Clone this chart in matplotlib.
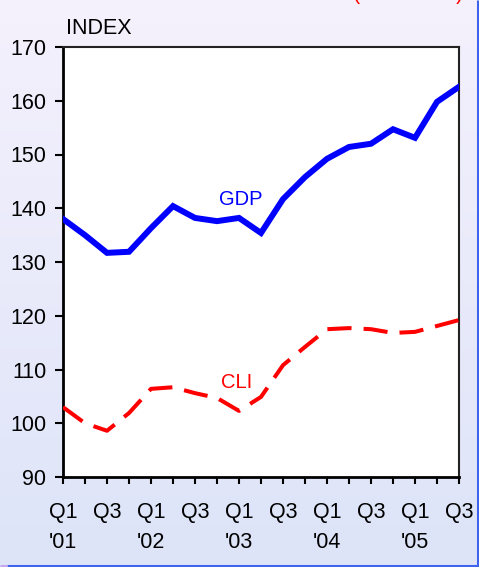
import matplotlib.pyplot as plt
import numpy as np

plt.rcParams['font.family'] = ['Liberation Sans', 'DejaVu Sans']

quarters = ["Q1\n'01", "Q2", "Q3", "Q4", "Q1\n'02", "Q2", "Q3", "Q4",
            "Q1\n'03", "Q2", "Q3", "Q4", "Q1\n'04", "Q2", "Q3", "Q4",
            "Q1\n'05", "Q2", "Q3"]
gdp = [138.0, 135.0, 131.7, 131.9, 136.3, 140.4, 138.2, 137.6, 138.2, 135.4,
       141.7, 145.8, 149.2, 151.4, 152.0, 154.7, 153.1, 159.8, 162.6]
cli = [103.0, 100.0, 98.6, 101.9, 106.4, 106.7, 105.6, 104.7, 102.3, 104.9,
       110.8, 114.2, 117.5, 117.7, 117.5, 116.8, 117.0, 118.1, 119.2]
yticks = [90, 100, 110, 120, 130, 140, 150, 160, 170]

W, H = 479, 567
fig = plt.figure(figsize=(W / 100, H / 100), dpi=100)

# gradient background
bg = fig.add_axes([0, 0, 1, 1], zorder=0)
top = np.array([0xF5, 0xF1, 0xFD]) / 255
bot = np.array([0xDD, 0xE4, 0xF8]) / 255
t = np.linspace(0, 1, 256)[:, None]
grad = (top * (1 - t) + bot * t)[:, None, :]
bg.imshow(grad, aspect='auto', extent=[0, 1, 0, 1])
bg.set_xlim(0, 1)
bg.set_ylim(0, 1)
bg.axis('off')
# frame lines at right and bottom
bg.plot([7 / W, 1], [1.5 / H, 1.5 / H], color='#3D63F0', lw=2.2, solid_capstyle='butt')
bg.plot([0, 7 / W], [1.5 / H, 1.5 / H], color='#C4A6EE', lw=2.2, solid_capstyle='butt')
bg.plot([(W - 1.5) / W] * 2, [0, 1], color='#3D63F0', lw=2.2, solid_capstyle='butt')

ax = fig.add_axes([63 / W, 1 - 477 / H, (459 - 63) / W, (477 - 47) / H], zorder=1)
ax.set_facecolor('white')
x = np.arange(len(quarters))
ax.plot(x, gdp, color='#0000FF', lw=4.3, solid_joinstyle='miter', zorder=3)
ax.plot(x, cli, color='#FF0000', lw=2.9, dashes=(6, 3), zorder=3)

ax.set_xlim(0, len(quarters) - 1)
ax.set_ylim(90, 170)
ax.set_yticks(yticks)
ax.set_xticks(x)
ax.set_xticklabels([q if q.startswith('Q1') or q.startswith('Q3') else '' for q in quarters],
                   linespacing=1.55)
ax.tick_params(axis='both', direction='out', labelsize=15.5, width=1.5, color='black')
ax.tick_params(axis='y', length=6, pad=6)
ax.tick_params(axis='x', length=5, pad=13)
for lab in ax.get_xticklabels():
    lab.set_verticalalignment('top')

for s in ['left', 'bottom']:
    ax.spines[s].set_linewidth(2)
for s in ['top', 'right']:
    ax.spines[s].set_linewidth(1.5)
    ax.spines[s].set_color('#222222')

ax.text(8.1, 141.7, 'GDP', color='#0000FF', fontsize=14.5, ha='center', va='center')
ax.text(7.9, 107.5, 'CLI', color='#FF0000', fontsize=14.5, ha='center', va='center')

fig.text(66 / W, 1 - 28 / H, 'INDEX', fontsize=15.5, ha='left', va='center')
fig.text(464 / W, 1 + 0.5 / H, '(2000=100)', fontsize=15.5, color='#FF0000',
         ha='right', va='baseline')

fig.savefig('out.png', dpi=100)
